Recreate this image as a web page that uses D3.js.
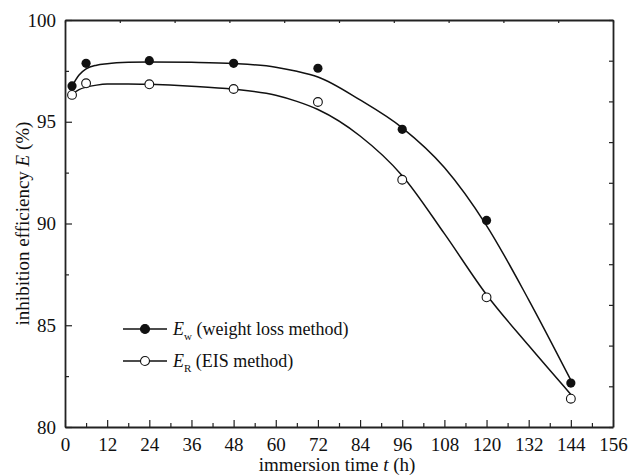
<!DOCTYPE html>
<html lang="en">
<head>
    <meta charset="UTF-8">
    <title>Inhibition efficiency vs immersion time</title>
    <script src="https://d3js.org/d3.v7.min.js"></script>
    <style>
        body { margin: 0; background: #fff; }
        .axis path, .axis line { stroke: #222; }
        .fit { fill: none; stroke: #111; stroke-width: 1.5px; }
    </style>
</head>
<body>
    <svg class="chart"></svg>

    <script>
        // measured points (immersion time in h, efficiency in %)
        var times = [2, 6, 24, 48, 72, 96, 120, 144];
        var ewValues = [96.76, 97.87, 98.0, 97.87, 97.63, 94.63, 90.15, 82.16];
        var erValues = [96.32, 96.89, 96.84, 96.61, 95.97, 92.15, 86.37, 81.39];

        // fitted curves
        var fitTimes = [2, 4, 6, 9, 12, 18, 24, 36, 48, 60, 66, 72, 84, 96, 108, 120, 132, 144];
        var ewFit = [96.75, 97.3, 97.6, 97.78, 97.85, 97.92, 97.94, 97.92, 97.86, 97.68, 97.48, 97.2, 96.07, 94.7, 92.75, 89.9, 86.25, 82.3];
        var erFit = [96.35, 96.58, 96.7, 96.8, 96.85, 96.86, 96.84, 96.75, 96.6, 96.3, 96.0, 95.6, 94.3, 92.35, 89.5, 86.5, 84.0, 81.6];

        var xTicks = d3.range(0, 157, 12);
        var yTicks = [80, 85, 90, 95, 100];

        var serif = 'Times New Roman, Liberation Serif, Tinos, Noto Serif, DejaVu Serif, serif';
        var svgWidth = 628, svgHeight = 475;
        var margin = {left: 65, right: 15, top: 20, bottom: 48};
        var w = svgWidth - margin.left - margin.right;
        var h = svgHeight - margin.top - margin.bottom;

        var svg = d3.select('.chart')
                    .attr('width', svgWidth)
                    .attr('height', svgHeight)
                    .style('font-family', serif);

        var g = svg.append('g')
                   .attr('transform', 'translate(' + margin.left + ',' + margin.top + ')');

        var x = d3.scaleLinear().domain([0, 156]).range([0, w]);
        var y = d3.scaleLinear().domain([80, 100]).range([h, 0]);
        // top and right frame carry ten unlabeled divisions
        var xTop = d3.scaleLinear().domain([0, 10]).range([0, w]);
        var yRight = d3.scaleLinear().domain([0, 10]).range([h, 0]);

        // minor ticks first, then major ones with labels
        g.append('g').attr('class', 'axis')
         .attr('transform', 'translate(0,' + h + ')')
         .call(d3.axisBottom(x).tickValues(d3.range(6, 156, 12)).tickSize(-4).tickFormat(''))
         .select('.domain').remove();
        g.append('g').attr('class', 'axis')
         .call(d3.axisLeft(y).tickValues([82.5, 87.5, 92.5, 97.5]).tickSize(-4).tickFormat(''))
         .select('.domain').remove();

        var xAxis = g.append('g').attr('class', 'axis')
         .attr('transform', 'translate(0,' + h + ')')
         .call(d3.axisBottom(x).tickValues(xTicks).tickSize(-7).tickPadding(11).tickSizeOuter(0));

        var yAxis = g.append('g').attr('class', 'axis')
         .call(d3.axisLeft(y).tickValues(yTicks).tickSize(-7).tickPadding(9).tickSizeOuter(0));

        g.append('g').attr('class', 'axis')
         .call(d3.axisTop(xTop).ticks(10).tickSize(-3).tickFormat('').tickSizeOuter(0));
        g.append('g').attr('class', 'axis')
         .attr('transform', 'translate(' + w + ',0)')
         .call(d3.axisRight(yRight).ticks(10).tickSize(-4).tickFormat('').tickSizeOuter(0));

        g.selectAll('.axis').attr('font-family', null).attr('font-size', 19);
        g.selectAll('.axis text').attr('fill', '#111');
        g.selectAll('.axis .domain').attr('stroke-width', 1.8);
        g.selectAll('.axis line').attr('stroke-width', 1.2);

        // fitted curves
        var line = d3.line()
                     .x((d, i) => x(fitTimes[i]))
                     .y(d => y(d))
                     .curve(d3.curveMonotoneX);

        g.append('path').datum(ewFit).attr('class', 'fit').attr('d', line);
        g.append('path').datum(erFit).attr('class', 'fit').attr('d', line);

        // markers
        g.selectAll('.ew').data(ewValues).enter().append('circle')
         .attr('class', 'ew')
         .attr('cx', (d, i) => x(times[i]))
         .attr('cy', d => y(d))
         .attr('r', 4.6)
         .attr('fill', '#111');

        g.selectAll('.er').data(erValues).enter().append('circle')
         .attr('class', 'er')
         .attr('cx', (d, i) => x(times[i]))
         .attr('cy', d => y(d))
         .attr('r', 4.4)
         .attr('fill', '#fff')
         .attr('stroke', '#111')
         .attr('stroke-width', 1.1);

        // legend
        var legendItems = [
            {sub: 'w', label: ' (weight loss method)', filled: true},
            {sub: 'R', label: ' (EIS method)', filled: false}
        ];
        var legend = g.selectAll('.legend').data(legendItems).enter().append('g')
                      .attr('class', 'legend')
                      .attr('transform', (d, i) => 'translate(58,' + (309 + i * 32) + ')');
        legend.append('line')
              .attr('x1', 0).attr('x2', 44)
              .attr('stroke', '#111').attr('stroke-width', 1.5);
        legend.append('circle')
              .attr('cx', 22).attr('r', 4.5)
              .attr('fill', d => d.filled ? '#111' : '#fff')
              .attr('stroke', '#111').attr('stroke-width', 1.1);
        var lt = legend.append('text')
              .attr('x', 50).attr('y', 6)
              .attr('fill', '#111')
              .attr('font-size', 18);
        lt.append('tspan').attr('font-style', 'italic').text('E');
        lt.append('tspan').attr('font-size', 11).attr('dy', 5).text(d => d.sub);
        lt.append('tspan').attr('dy', -5).text(d => d.label);

        // axis titles
        var xt = svg.append('text')
           .attr('x', margin.left + w / 2 - 2)
           .attr('y', 471)
           .attr('text-anchor', 'middle')
           .attr('fill', '#111')
           .attr('font-size', 19);
        xt.append('tspan').text('immersion time ');
        xt.append('tspan').attr('font-style', 'italic').text('t');
        xt.append('tspan').text(' (h)');

        var yt = svg.append('text')
           .attr('transform', 'translate(29,' + (margin.top + h / 2) + ') rotate(-90)')
           .attr('text-anchor', 'middle')
           .attr('fill', '#111')
           .attr('font-size', 19);
        yt.append('tspan').text('inhibition efficiency ');
        yt.append('tspan').attr('font-style', 'italic').text('E');
        yt.append('tspan').text(' (%)');
    </script>
</body>
</html>
